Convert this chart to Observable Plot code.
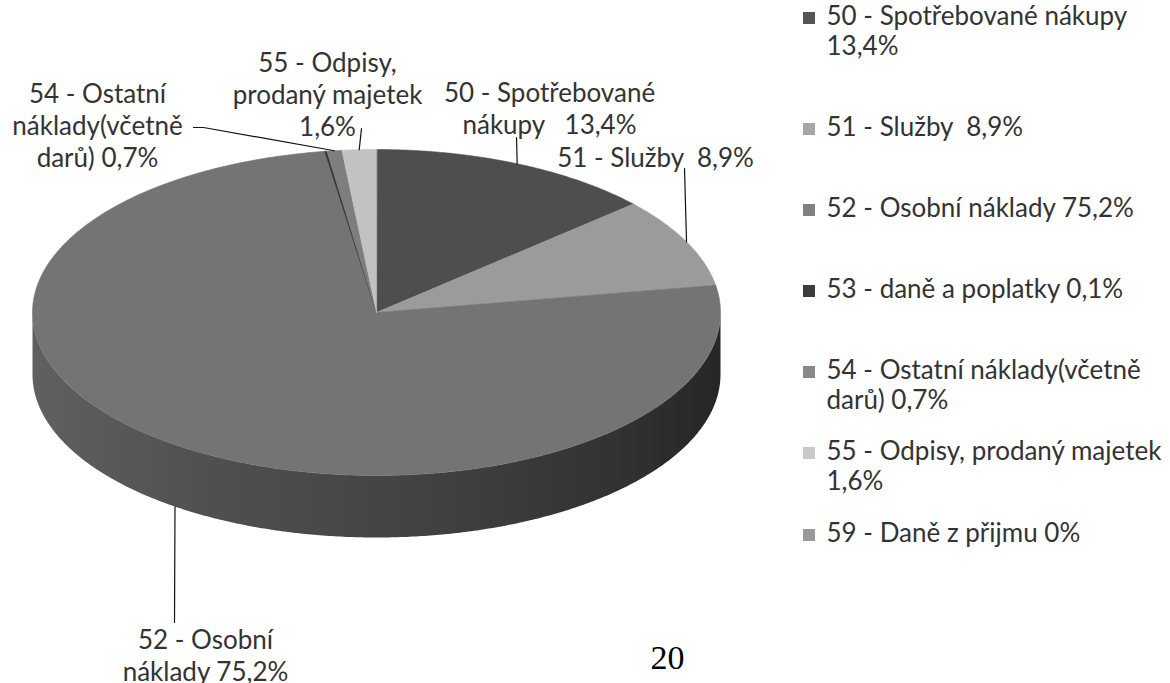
<!DOCTYPE html>
<html>
<head>
<meta charset="utf-8">
<script src="https://cdn.jsdelivr.net/npm/d3@7"></script>
<script src="https://cdn.jsdelivr.net/npm/@observablehq/plot@0.6"></script>
<style>
  html, body { margin: 0; padding: 0; background: #ffffff; }
  #chart svg text { white-space: pre; }
</style>
<script>
// ---------------- DATA ----------------
const codes = ["50", "51", "52", "53", "54", "55", "59"];
const shares = [13.4, 8.9, 75.2, 0.1, 0.7, 1.6, 0];
const legendLines = [
  ["50 - Spotřebované nákupy", "13,4%"],
  ["51 - Služby  8,9%"],
  ["52 - Osobní náklady 75,2%"],
  ["53 - daně a poplatky 0,1%"],
  ["54 - Ostatní náklady(včetně", "darů) 0,7%"],
  ["55 - Odpisy, prodaný majetek", "1,6%"],
  ["59 - Daně z přijmu 0%"]
];
const pieLabelLines = [
  ["50 - Spotřebované", "nákupy   13,4%"],
  ["51 - Služby  8,9%"],
  ["52 - Osobní", "náklady 75,2%"],
  [],
  ["54 - Ostatní", "náklady(včetně", "darů) 0,7%"],
  ["55 - Odpisy,", "prodaný majetek", "1,6%"],
  []
];
const pageNumber = "20";

// ---------------- STYLE / LAYOUT ----------------
const swatchColors = ["#555555", "#a6a6a6", "#808080", "#3c3c3c", "#8a8a8a", "#c9c9c9", "#9a9a9a"];
const sliceColors  = ["#4e4e4e", "#9b9b9b", "#747474", "#303030", "#7e7e7e", "#c2c2c2", "#8c8c8c"];
const pie = {cx: 376, cy: 312, rx: 344, ry: 163, depth: 62};
const labelFont = 26, lineStep = 32;
const labelLayout = {
  "50": {x: 549, y: 93,  ex: 516, ey: 137},
  "51": {x: 655, y: 158, ex: 684, ey: 168},
  "52": {x: 205, y: 640, ex: 174, ey: 622, side: true},
  "54": {x: 97,  y: 94,  ex: 203, ey: 127, tailX: 193},
  "55": {x: 327, y: 63,  ex: 361, ey: 128}
};
const legendLayout = {swatchX: 803, swatch: 12, textX: 826, ys: [16, 127, 208, 289, 370, 451, 533], line: 30};

function draw() {
  const total = d3.sum(shares);
  let acc = 0;
  const slices = codes.map((code, i) => {
    const a0 = acc / total * 2 * Math.PI;
    acc += shares[i];
    const a1 = acc / total * 2 * Math.PI;
    return {code, i, a0, a1, mid: (a0 + a1) / 2};
  });
  const ex = a => pie.cx + pie.rx * Math.sin(a);
  const ey = a => pie.cy - pie.ry * Math.cos(a);
  const arc = (a0, a1, dy = 0) => {
    const n = Math.max(2, Math.ceil(Math.abs(a1 - a0) / (Math.PI / 360)));
    return d3.range(n + 1).map(k => {
      const a = a0 + (a1 - a0) * k / n;
      return {x: ex(a), y: ey(a) + dy};
    });
  };

  const topPts = [];
  slices.forEach(s => {
    if (s.a1 - s.a0 <= 0) return;
    [{x: pie.cx, y: pie.cy}, ...arc(s.a0, s.a1)]
      .forEach(p => topPts.push({...p, code: s.code, color: sliceColors[s.i]}));
  });

  const sidePts = [];
  slices.forEach(s => {
    const b0 = Math.max(s.a0, Math.PI / 2), b1 = Math.min(s.a1, 3 * Math.PI / 2);
    if (b1 <= b0) return;
    [...arc(b0, b1), ...arc(b1, b0, pie.depth)].forEach(p => sidePts.push({...p, code: s.code}));
  });

  const connPts = [];
  const labelRows = [];
  slices.forEach(s => {
    const L = labelLayout[s.code];
    if (!L) return;
    connPts.push({x: ex(s.mid), y: ey(s.mid) + (L.side ? pie.depth : 0), code: s.code});
    connPts.push({x: L.ex, y: L.ey, code: s.code});
    if (L.tailX != null) connPts.push({x: L.tailX, y: L.ey, code: s.code});
    pieLabelLines[s.i].forEach((t, k) => labelRows.push({x: L.x, y: L.y + k * lineStep, text: t}));
  });

  const legendSw = codes.map((c, i) => ({
    x1: legendLayout.swatchX, x2: legendLayout.swatchX + legendLayout.swatch,
    y1: legendLayout.ys[i] - legendLayout.swatch / 2 + 2,
    y2: legendLayout.ys[i] + legendLayout.swatch / 2 + 2,
    color: swatchColors[i]
  }));
  const legendText = [];
  legendLines.forEach((lines, i) => lines.forEach((t, k) => legendText.push({
    x: legendLayout.textX, y: legendLayout.ys[i] + k * legendLayout.line, text: t
  })));

  const chart = Plot.plot({
    width: 1170, height: 683, margin: 0,
    x: {type: "identity"}, y: {type: "identity"},
    color: {type: "identity"},
    style: {fontFamily: "Lato, 'Open Sans', sans-serif", background: "#ffffff"},
    marks: [
      Plot.line(sidePts, {x: "x", y: "y", z: "code", curve: "linear-closed", fill: "url(#sideGrad)", stroke: "none"}),
      Plot.line(topPts, {x: "x", y: "y", z: "code", curve: "linear-closed", fill: "color", stroke: "color", strokeWidth: 0.6}),
      Plot.line(connPts, {x: "x", y: "y", z: "code", stroke: "#111111", strokeWidth: 1.2, curve: "linear"}),
      Plot.text(labelRows, {x: "x", y: "y", text: "text", textAnchor: "middle", lineAnchor: "middle", fontSize: labelFont, fill: "#333333"}),
      Plot.rect(legendSw, {x1: "x1", x2: "x2", y1: "y1", y2: "y2", fill: "color"}),
      Plot.text(legendText, {x: "x", y: "y", text: "text", textAnchor: "start", lineAnchor: "middle", fontSize: labelFont, fill: "#333333"}),
      Plot.text([pageNumber], {x: () => 667, y: () => 658, text: d => d, fontFamily: "'Liberation Serif', 'Times New Roman', serif", fontSize: 34, fill: "#000000", lineAnchor: "middle"})
    ]
  });

  const defs = d3.select(chart).insert("defs", ":first-child");
  const grad = defs.append("linearGradient").attr("id", "sideGrad")
    .attr("x1", "0").attr("y1", "0").attr("x2", "1").attr("y2", "0");
  [[0, "#606060"], [0.25, "#505050"], [0.55, "#434343"], [0.85, "#323232"], [1, "#262626"]]
    .forEach(([o, c]) => grad.append("stop").attr("offset", o).attr("stop-color", c));

  document.getElementById("chart").appendChild(chart);
}
window.addEventListener("DOMContentLoaded", draw);
</script>
</head>
<body>
<div id="chart"></div>
</body>
</html>
